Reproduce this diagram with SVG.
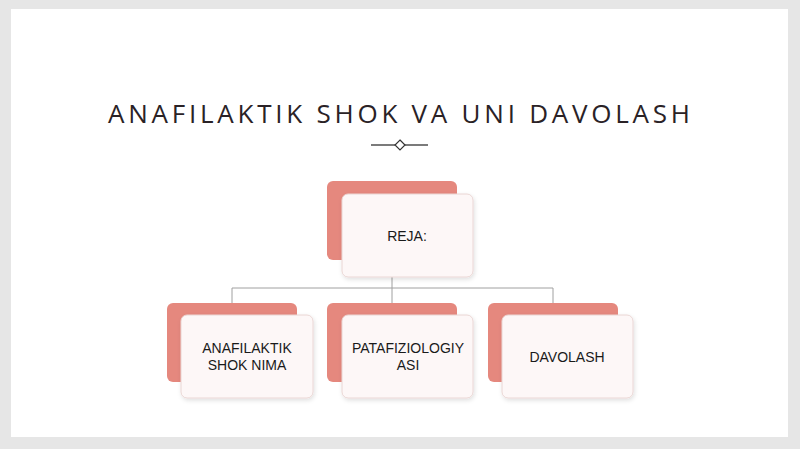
<svg xmlns="http://www.w3.org/2000/svg" width="800" height="449" viewBox="0 0 800 449">
<defs>
<style>
.back{fill:#e5887e;}
.front{fill:#fdf7f7;stroke:#ead6d4;stroke-width:1;}
.lbl{font-family:"Liberation Sans","DejaVu Sans",sans-serif;font-size:14px;fill:#1a1a1a;text-anchor:middle;}
.conn{stroke:#a0a0a0;stroke-width:1;fill:none;}
</style>
<filter id="sh" x="-10%" y="-10%" width="125%" height="130%">
<feDropShadow dx="1" dy="2" stdDeviation="2" flood-color="#000" flood-opacity="0.12"/>
</filter>
</defs>
<rect x="0" y="0" width="800" height="449" fill="#e6e6e6"/>
<rect x="11" y="9" width="777" height="428" fill="#ffffff"/>
<text x="399" y="123" font-family="'Open Sans','DejaVu Sans',sans-serif" font-size="26" fill="#2a2226" text-anchor="middle" textLength="582" lengthAdjust="spacing">ANAFILAKTIK SHOK VA UNI DAVOLASH</text>
<g id="divider">
<line x1="371" y1="145" x2="395" y2="145" stroke="#333" stroke-width="1.3"/>
<line x1="405" y1="145" x2="428" y2="145" stroke="#333" stroke-width="1.3"/>
<polygon points="400,140 405,145 400,150 395,145" fill="#fff" stroke="#333" stroke-width="1.2"/>
</g>
<g id="connectors">
<path class="conn" d="M392 277 V288 M232 288 H553 M232 288 V303 M392 288 V303 M553 288 V303"/>
</g>
<g id="node-reja">
<rect class="back" x="327" y="181" width="130" height="79" rx="6"/>
<rect class="front" x="342" y="194" width="131" height="83" rx="6" filter="url(#sh)"/>
<text class="lbl" x="407" y="241">REJA:</text>
</g>
<g id="node-anafilaktik">
<rect class="back" x="167" y="303" width="130" height="79" rx="6"/>
<rect class="front" x="181" y="315" width="132" height="83" rx="6" filter="url(#sh)"/>
<text class="lbl" x="247" y="353">ANAFILAKTIK</text>
<text class="lbl" x="247" y="370">SHOK NIMA</text>
</g>
<g id="node-patafiziologiya">
<rect class="back" x="327" y="303" width="130" height="79" rx="6"/>
<rect class="front" x="342" y="315" width="131" height="83" rx="6" filter="url(#sh)"/>
<text class="lbl" x="408" y="353">PATAFIZIOLOGIY</text>
<text class="lbl" x="408" y="370">ASI</text>
</g>
<g id="node-davolash">
<rect class="back" x="488" y="303" width="130" height="79" rx="6"/>
<rect class="front" x="502" y="315" width="131" height="83" rx="6" filter="url(#sh)"/>
<text class="lbl" x="567" y="362">DAVOLASH</text>
</g>
</svg>
